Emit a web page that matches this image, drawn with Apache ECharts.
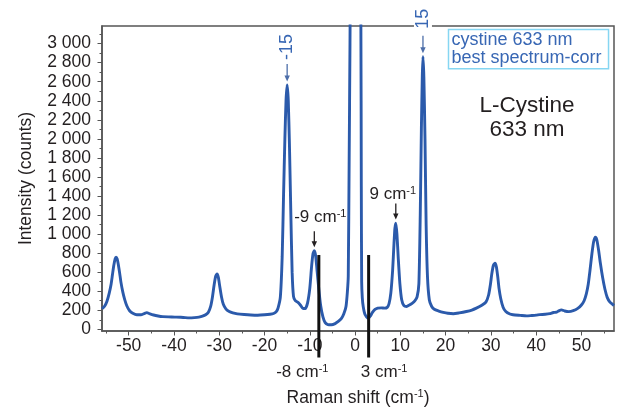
<!DOCTYPE html>
<html>
<head>
<meta charset="utf-8">
<script src="https://cdn.jsdelivr.net/npm/echarts@6/dist/echarts.min.js"></script>
<style>
  html, body { margin: 0; padding: 0; background: #fff; }
  #chart { width: 618px; height: 412px; }
</style>
</head>
<body>
<div id="chart"></div>
<script>
// Low-frequency Raman spectrum of L-cystine, 633 nm excitation.
const ramanShift = [
  -55.9, -55.3, -54.8, -54.3, -53.9, -53.6, -53.3, -53.0, -52.8, -52.55,
  -52.3, -52.0, -51.7, -51.3, -50.9, -50.4, -49.8, -49.1, -48.2, -47.3,
  -46.6, -46.0, -45.3, -44.5, -43.5, -42.5, -41.2, -39.8, -38.5, -37.5,
  -36.5, -35.5, -34.5, -33.7, -33.0, -32.4, -31.9, -31.5, -31.15, -30.8,
  -30.5, -30.2, -29.9, -29.5, -29.1, -28.5, -27.8, -27.0, -26.0, -24.5,
  -23.0, -21.5, -20.0, -18.8, -18.0, -17.4, -17.0, -16.5, -16.1, -15.8,
  -15.5, -15.25, -15.0, -14.75, -14.5, -14.2, -13.9, -13.6, -13.2, -12.6,
  -12.0, -11.5, -11.0, -10.5, -10.0, -9.6, -9.3, -9.0, -8.7, -8.4,
  -8.0, -7.6, -7.1, -6.6, -6.0, -5.2, -4.4, -3.7, -3.0, -2.5,
  -2.0, -1.7, -1.5, -1.3, -1.12, -0.9, 0.0, 0.9, 1.28, 1.38,
  1.46, 1.6, 1.8, 2.2, 2.9, 3.4, 3.8, 4.4, 5.0, 5.8,
  6.5, 7.1, 7.5, 7.9, 8.3, 8.6, 8.8, 9.0, 9.25, 9.55,
  9.9, 10.3, 10.8, 11.4, 12.0, 12.6, 13.2, 13.7, 14.1, 14.4,
  14.65, 14.85, 15.0, 15.2, 15.45, 15.7, 16.0, 16.4, 16.9, 17.5,
  18.5, 19.5, 20.5, 21.7, 23.0, 24.6, 25.8, 26.8, 28.0, 28.9,
  29.5, 29.9, 30.2, 30.55, 30.9, 31.2, 31.5, 31.8, 32.2, 32.7,
  33.3, 34.2, 34.9, 36.5, 37.9, 39.0, 40.0, 40.8, 42.0, 43.0,
  43.8, 44.5, 45.0, 45.6, 46.3, 47.2, 48.2, 49.2, 50.0, 50.6,
  51.1, 51.5, 51.9, 52.3, 52.7, 53.1, 53.4, 53.8, 54.2, 54.7,
  55.2, 55.7, 56.3, 57.2
];
const intensity = [
  215, 245, 295, 380, 470, 570, 670, 740, 758, 740,
  680, 590, 490, 390, 315, 245, 195, 168, 152, 152,
  165, 175, 162, 150, 140, 133, 130, 128, 126, 122,
  120, 123, 128, 137, 152, 180, 240, 340, 460, 555,
  580, 545, 455, 340, 262, 212, 186, 172, 162, 155,
  150, 148, 152, 158, 166, 185, 225, 340, 760, 1400,
  2000, 2400, 2566, 2400, 1950, 1250, 600, 345, 300, 282,
  250, 218, 218, 275, 430, 660, 790, 825, 770, 620,
  420, 250, 130, 70, 50, 48, 60, 82, 115, 160,
  240, 390, 560, 1800, 3000, 5000, 20000, 5000, 3300, 1500,
  500, 330, 240, 155, 115, 140, 175, 208, 222, 225,
  222, 230, 268, 380, 620, 900, 1060, 1115, 1000, 740,
  480, 310, 248, 240, 255, 272, 298, 340, 480, 1200,
  2100, 2650, 2862, 2650, 2000, 1100, 550, 310, 242, 210,
  192, 178, 168, 163, 172, 187, 202, 222, 252, 285,
  360, 470, 580, 670, 694, 660, 560, 430, 318, 232,
  186, 160, 152, 146, 141, 145, 149, 154, 158, 164,
  176, 180, 194, 204, 192, 185, 195, 220, 255, 300,
  375, 470, 620, 785, 920, 967, 940, 830, 690, 540,
  420, 335, 285, 250
];

// Axis ticks
const xTickValues = [-50, -40, -30, -20, -10, 0, 10, 20, 30, 40, 50];
const xMinorTickValues = [-55, -45, -35, -25, -15, -5, 5, 15, 25, 35, 45, 55];
const yTickValues = [0, 200, 400, 600, 800, 1000, 1200, 1400, 1600, 1800, 2000, 2200, 2400, 2600, 2800, 3000];
const yMinorTickValues = [100, 300, 500, 700, 900, 1100, 1300, 1500, 1700, 1900, 2100, 2300, 2500, 2700, 2900, 3100];

// Peaks pointed out with arrows
const arrowPeakShifts = [-15, 15, -9, 9];
const arrowPeakTexts = ['-15', '15', '-9 cm', '9 cm'];
const arrowPeakUnits = ['', '', '-1', '-1'];

// Vertical markers crossing the shift axis
const markerShifts = [-8, 3];
const markerTexts = ['-8 cm', '3 cm'];
const markerUnits = ['-1', '-1'];
const markerTopIntensity = 780;

const seriesName = 'cystine 633 nm\nbest spectrum-corr';
const sampleTitle = 'L-Cystine\n633 nm';

const FONT = '"Liberation Sans", Arial, Helvetica, sans-serif';
const INK = '#231f20';
const FRAME = '#555555';
const SPECTRUM = '#2b5aab';
const LABEL_BLUE = '#3867b4';
const X_MIN = -55.9, X_MAX = 57.2, Y_MIN = -18, Y_MAX = 3185;

function formatCount(v) {
  if (v < 1000) return String(v);
  return Math.floor(v / 1000) + ' ' + String(v % 1000).padStart(3, '0');
}

const chart = echarts.init(document.getElementById('chart'), null, { renderer: 'canvas' });

const baseAxis = {
  type: 'value',
  splitLine: { show: false },
  minorSplitLine: { show: false }
};

chart.setOption({
  animation: false,
  backgroundColor: '#fff',
  grid: {
    left: 102, right: 4, top: 26, bottom: 81,
    show: true, borderColor: FRAME, borderWidth: 1.5,
    outerBoundsMode: 'none'
  },
  legend: {
    left: 448.5, top: 29.5,
    orient: 'vertical',
    data: [{ name: seriesName, icon: 'none' }],
    itemWidth: 0, itemHeight: 0, itemGap: 0,
    padding: [1, 7, 1, -2],
    borderColor: '#86d6f2', borderWidth: 1.5, borderRadius: 0,
    backgroundColor: '#fff',
    selectedMode: false,
    textStyle: { color: LABEL_BLUE, fontSize: 18, fontFamily: FONT, lineHeight: 18.6 }
  },
  xAxis: [
    Object.assign({}, baseAxis, {
      min: X_MIN, max: X_MAX, position: 'bottom',
      name: '{t|Raman shift (cm}{s|-1}{t|)}',
      nameLocation: 'middle', nameGap: 57, nameMoveOverlap: false,
      nameTextStyle: {
        rich: {
          t: { fontSize: 17.5, fontFamily: FONT, color: INK, lineHeight: 20 },
          s: { fontSize: 11, fontFamily: FONT, color: INK, lineHeight: 14, verticalAlign: 'top' }
        }
      },
      axisLine: { show: true, onZero: false, lineStyle: { color: FRAME, width: 1.5 } },
      axisTick: { show: true, inside: false, length: 4.5, customValues: xTickValues, lineStyle: { color: FRAME, width: 1 } },
      axisLabel: { show: true, customValues: xTickValues, margin: 6, fontSize: 17.5, fontFamily: FONT, color: INK }
    }),
    Object.assign({}, baseAxis, {
      min: X_MIN, max: X_MAX, position: 'bottom',
      axisLine: { show: false, onZero: false },
      axisTick: { show: true, inside: false, length: 2.5, customValues: xMinorTickValues, lineStyle: { color: FRAME, width: 1 } },
      axisLabel: { show: false }
    })
  ],
  yAxis: [
    Object.assign({}, baseAxis, {
      min: Y_MIN, max: Y_MAX, position: 'left',
      name: 'Intensity (counts)',
      nameLocation: 'middle', nameGap: 66, nameMoveOverlap: false,
      nameTextStyle: { fontSize: 17.5, fontFamily: FONT, color: INK, lineHeight: 20 },
      axisLine: { show: true, onZero: false, lineStyle: { color: FRAME, width: 1.5 } },
      axisTick: { show: true, inside: false, length: 4.5, customValues: yTickValues, lineStyle: { color: FRAME, width: 1 } },
      axisLabel: { show: true, customValues: yTickValues, margin: 11, fontSize: 17.5, fontFamily: FONT, color: INK, formatter: formatCount }
    }),
    Object.assign({}, baseAxis, {
      min: Y_MIN, max: Y_MAX, position: 'left',
      axisLine: { show: false, onZero: false },
      axisTick: { show: true, inside: false, length: 2.5, customValues: yMinorTickValues, lineStyle: { color: FRAME, width: 1 } },
      axisLabel: { show: false }
    })
  ],
  series: [{
    name: seriesName,
    type: 'line',
    xAxisIndex: 0, yAxisIndex: 0,
    data: ramanShift.map((x, i) => [x, intensity[i]]),
    symbol: 'none', showSymbol: false,
    smooth: 0.2,
    clip: true,
    color: SPECTRUM,
    lineStyle: { color: SPECTRUM, width: 2.9 },
    z: 3
  }]
});

// Annotations placed through the series' own coordinate system
const toPx = (x, y) => chart.convertToPixel({ seriesIndex: 0 }, [x, y]);
const graphics = [];

function supText(main, sup, size, color) {
  return {
    text: sup ? '{a|' + main + '}{b|' + sup + '}' : '{a|' + main + '}',
    rich: {
      a: { fontSize: size, fontFamily: FONT, fill: color, lineHeight: size + 1 },
      b: { fontSize: 11, fontFamily: FONT, fill: color, lineHeight: 14, verticalAlign: 'top' }
    },
    align: 'center', verticalAlign: 'middle'
  };
}

function addArrow(x, yTop, yTip, color) {
  graphics.push({
    type: 'line', z: 60, silent: true,
    shape: { x1: x, y1: yTop, x2: x, y2: yTip - 4 },
    style: { stroke: color, lineWidth: 1.3 }
  });
  graphics.push({
    type: 'polygon', z: 60, silent: true,
    shape: { points: [[x - 2.7, yTip - 6], [x + 2.7, yTip - 6], [x, yTip]] },
    style: { fill: color }
  });
}

arrowPeakShifts.forEach((shift, i) => {
  const peak = intensity[ramanShift.indexOf(shift)];
  const [px, py] = toPx(shift, peak);
  const rotated = arrowPeakUnits[i] === '';
  const tip = py - 3.5;
  if (rotated) {
    const top = tip - 17.5;
    addArrow(px, top, tip, '#4d6ea9');
    graphics.push({
      type: 'text', z: 70, silent: true,
      x: px, y: top - 17, rotation: Math.PI / 2,
      style: {
        text: arrowPeakTexts[i], fontSize: 18, fontFamily: FONT, fill: LABEL_BLUE,
        align: 'center', verticalAlign: 'middle',
        backgroundColor: '#fff', padding: [0, 3]
      }
    });
  } else {
    const top = tip - 16;
    addArrow(px, top, tip, INK);
    const dx = shift < 0 ? 6 : -3;
    const dy = shift < 0 ? 14 : 9.5;
    graphics.push({
      type: 'text', z: 70, silent: true,
      x: px + dx, y: top - dy,
      style: supText(arrowPeakTexts[i], arrowPeakUnits[i], 17, INK)
    });
  }
});

markerShifts.forEach((shift, i) => {
  const [px, pyTop] = toPx(shift, markerTopIntensity);
  const pyBottom = 357.5;
  graphics.push({
    type: 'line', z: 80, silent: true,
    shape: { x1: px, y1: pyTop, x2: px, y2: pyBottom },
    style: { stroke: '#111', lineWidth: 3 }
  });
  const dx = shift < 0 ? -16.5 : 15.5;
  graphics.push({
    type: 'text', z: 70, silent: true,
    x: px + dx, y: 372.5,
    style: supText(markerTexts[i], markerUnits[i], 17, INK)
  });
});

// Sample name inside the plot area
graphics.push({
  type: 'text', z: 70, silent: true,
  x: 527, y: 117.5,
  style: {
    text: sampleTitle, fontSize: 22.5, fontFamily: FONT, fill: INK,
    lineHeight: 24, align: 'center', verticalAlign: 'middle'
  }
});

chart.setOption({ graphic: graphics });
</script>
</body>
</html>
